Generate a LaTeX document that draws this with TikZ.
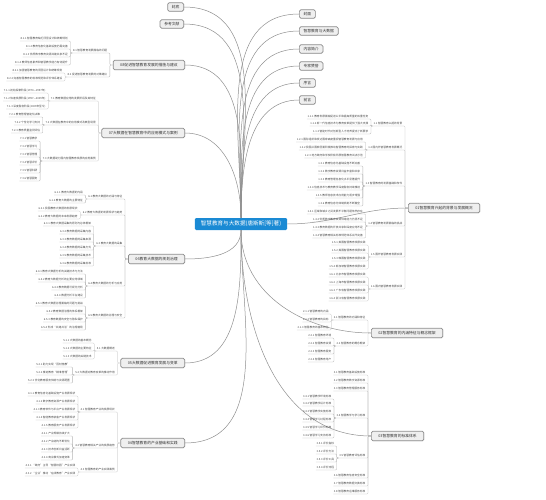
\documentclass[tikz,border=0pt]{standalone}
\usepackage{fontspec}
\setmainfont{Noto Sans CJK SC}
\usetikzlibrary{shadows}

\definecolor{hubBlue}{HTML}{1A8AD4}
\definecolor{boxFill}{HTML}{EFEFEF}
\definecolor{boxLine}{HTML}{8C8C8C}
\definecolor{mainLine}{HTML}{8F8F8F}
\definecolor{subLine}{HTML}{B5B5B5}
\definecolor{subText}{HTML}{454545}

\begin{document}
\begin{tikzpicture}[x=1pt, y=1pt,
    hub/.style={fill=hubBlue, text=white, rounded corners=1.2pt,
        font=\fontsize{5.6}{6.5}\selectfont, inner xsep=6pt, inner ysep=2pt, minimum height=12pt},
    tag/.style={draw=boxLine, fill=boxFill, line width=0.7pt, rounded corners=1.5pt,
        font=\fontsize{3.8}{4.5}\selectfont, text=black!80, inner xsep=4.2pt, inner ysep=1.5pt,
        minimum height=8.5pt, drop shadow={shadow xshift=0.5pt, shadow yshift=-0.5pt, opacity=0.2}},
    topic/.style={tag, inner xsep=7pt, minimum height=9.5pt},
    sub/.style={font=\fontsize{2.7}{3.2}\selectfont, text=subText, inner sep=0.5pt,
        text height=2.1pt, text depth=0.5pt, anchor=east},
    wire/.style={draw=mainLine, line width=0.5pt},
    twig/.style={draw=subLine, line width=0.3pt, rounded corners=1pt},
]
\useasboundingbox (0,0) rectangle (546,-500);

% Central topic
\node[hub] (hub) at (241,-224) {智慧教育与大数据(唐斯斯[等]著)};

% Front and back matter
\node[tag, anchor=east] (backc) at (184,-7) {封底};
\node[tag, anchor=east] (refs) at (184,-24) {参考文献};
\node[tag, anchor=west] (cover) at (299,-14) {封面};
\node[tag, anchor=west] (title) at (299,-31) {智慧教育与大数据};
\node[tag, anchor=west] (intro) at (299,-49) {内容简介};
\node[tag, anchor=west] (praise) at (299,-66) {专家赞誉};
\node[tag, anchor=west] (pref) at (299,-83) {序言};
\node[tag, anchor=west] (fwd) at (299,-100) {前言};

% Chapters
\node[topic, anchor=west] (ch1) at (408,-208) {01智慧教育兴起的背景与发展概况};
\node[topic, anchor=west] (ch2) at (371,-333) {02智慧教育的内涵特征与概念框架};
\node[topic, anchor=west] (ch3) at (371,-436) {03智慧教育的标准体系};
\node[topic, anchor=east] (ch4) at (185,-443) {04智慧教育的产业基础和实践};
\node[topic, anchor=east] (ch5) at (185,-363) {05大数据促进教育发展与变革};
\node[topic, anchor=east] (ch6) at (185,-259) {06教育大数据的规划治理};
\node[topic, anchor=east] (ch7) at (185,-133) {07大数据在智慧教育中的应用模式与案例};
\node[topic, anchor=east] (ch8) at (185,-65) {08促进智慧教育发展的措施与建议};

% Curves from the central topic
\foreach \m in {backc,refs,ch8,ch7}
    \draw[wire] (hub.north) to[out=90,in=0] (\m.east);
\foreach \m in {cover,title,intro,praise,pref,fwd}
    \draw[wire] (hub.north) to[out=90,in=180] (\m.west);
\draw[wire] (hub.east) to[out=0,in=180] (ch1.west);
\foreach \m in {ch6,ch5,ch4}
    \draw[wire] (hub.south) to[out=-90,in=0] (\m.east);
\foreach \m in {ch2,ch3}
    \draw[wire] (hub.south) to[out=-90,in=180] (\m.west);

% ---- 01 ----
\foreach \y/\lbl [count=\i] in {124/{1.1 智慧教育兴起的背景}, 148/{1.2 国内外智慧教育发展概况},
    184/{1.3 智慧教育的发展基础和条件}, 224/{1.4 智慧教育发展面临的挑战},
    255/{1.5 国外智慧教育发展实践}, 287/{1.6 国内智慧教育发展实践}} {
    \node[sub, xshift=-5pt] (n1\i) at (ch1.west |- 0,-\y) {\lbl};
    \draw[twig] (ch1.west) -- ++(-3,0) |- (n1\i.south east) -- (n1\i.south west);
}
\foreach \y/\lbl [count=\i] in {117/{1.1.1 教育发展面临促进公平和提高质量的双重任务},
    124/{1.1.2 新一代信息技术为教育变革提供了强大支撑}, 132/{1.1.3 智能时代对创新型人才培养提出了新要求}} {
    \node[sub, xshift=-4pt] (n11\i) at (n11.west |- 0,-\y) {\lbl};
    \draw[twig] (n11.south west) -- ++(-2,0) |- (n11\i.south east) -- (n11\i.south west);
}
\foreach \y/\lbl [count=\i] in {140/{1.2.1 国际组织和发达国家高度重视智慧教育发展与应用},
    148/{1.2.2 我国从国家层面积极推动智慧教育的探索与实践}, 156/{1.2.3 地方政府和学校积极开展智慧教育试点示范}} {
    \node[sub, xshift=-4pt] (n12\i) at (n12.west |- 0,-\y) {\lbl};
    \draw[twig] (n12.south west) -- ++(-2,0) |- (n12\i.south east) -- (n12\i.south west);
}
\foreach \y/\lbl [count=\i] in {164/{1.3.1 教育信息化基础设施不断完善}, 172/{1.3.2 数字教育资源日益丰富和共享},
    180/{1.3.3 教育管理信息化水平显著提升}, 188/{1.3.4 信息技术与教育教学深度融合持续推进},
    196/{1.3.5 教师信息技术应用能力逐步增强}, 204/{1.3.6 教育信息化体制机制不断健全}} {
    \node[sub, xshift=-4pt] (n13\i) at (n13.west |- 0,-\y) {\lbl};
    \draw[twig] (n13.south west) -- ++(-2,0) |- (n13\i.south east) -- (n13\i.south west);
}
\foreach \y/\lbl [count=\i] in {212/{1.4.1 区域和城乡之间发展不平衡问题依然存在}, 220/{1.4.2 优质数字教育资源供给能力仍显不足},
    228/{1.4.3 教育数据的开放共享和深度应用不足}, 236/{1.4.4 智慧教育相关标准规范体系尚不完善}} {
    \node[sub, xshift=-4pt] (n14\i) at (n14.west |- 0,-\y) {\lbl};
    \draw[twig] (n14.south west) -- ++(-2,0) |- (n14\i.south east) -- (n14\i.south west);
}
\foreach \y/\lbl [count=\i] in {243/{1.5.1 美国智慧教育发展实践}, 251/{1.5.2 英国智慧教育发展实践},
    259/{1.5.3 韩国智慧教育发展实践}, 267/{1.5.4 新加坡智慧教育发展实践}} {
    \node[sub, xshift=-4pt] (n15\i) at (n15.west |- 0,-\y) {\lbl};
    \draw[twig] (n15.south west) -- ++(-2,0) |- (n15\i.south east) -- (n15\i.south west);
}
\foreach \y/\lbl [count=\i] in {275/{1.6.1 北京市智慧教育发展实践}, 283/{1.6.2 上海市智慧教育发展实践},
    291/{1.6.3 广东省智慧教育发展实践}, 299/{1.6.4 浙江省智慧教育发展实践}} {
    \node[sub, xshift=-4pt] (n16\i) at (n16.west |- 0,-\y) {\lbl};
    \draw[twig] (n16.south west) -- ++(-2,0) |- (n16\i.south east) -- (n16\i.south west);
}

% ---- 02 ----
\foreach \y/\lbl [count=\i] in {318/{2.1 智慧教育的内涵和特征}, 344/{2.2 智慧教育的概念框架}} {
    \node[sub, xshift=-5pt] (n2\i) at (ch2.west |- 0,-\y) {\lbl};
    \draw[twig] (ch2.west) -- ++(-3,0) |- (n2\i.south east) -- (n2\i.south west);
}
\foreach \y/\lbl [count=\i] in {312/{2.1.1 智慧教育的内涵}, 320/{2.1.2 智慧教育的目标}, 328/{2.1.3 智慧教育的基本特征}} {
    \node[sub, xshift=-4pt] (n21\i) at (n21.west |- 0,-\y) {\lbl};
    \draw[twig] (n21.south west) -- ++(-2,0) |- (n21\i.south east) -- (n21\i.south west);
}
\foreach \y/\lbl [count=\i] in {336/{2.2.1 智慧教育环境}, 344/{2.2.2 智慧教育资源},
    352/{2.2.3 智慧教育服务}, 360/{2.2.4 智慧教育用户}} {
    \node[sub, xshift=-4pt] (n22\i) at (n22.west |- 0,-\y) {\lbl};
    \draw[twig] (n22.south west) -- ++(-2,0) |- (n22\i.south east) -- (n22\i.south west);
}

% ---- 03 ----
\foreach \y/\lbl [count=\i] in {373/{3.1 智慧教育基础设施标准}, 381/{3.2 智慧教育数字资源标准},
    389/{3.3 智慧教育管理服务标准}, 416/{3.4 智慧教学与学习标准}, 456/{3.5 智慧教育评估标准},
    476/{3.6 智慧教育信息安全标准}, 484/{3.7 智慧教育数据交换标准}, 492/{3.8 智慧教育运维服务标准}} {
    \node[sub, xshift=-5pt] (n3\i) at (ch3.west |- 0,-\y) {\lbl};
    \draw[twig] (ch3.west) -- ++(-3,0) |- (n3\i.south east) -- (n3\i.south west);
}
\foreach \y/\lbl [count=\i] in {397/{3.4.1 智慧教学环境标准}, 404/{3.4.2 智慧教学设计标准},
    412/{3.4.3 智慧教学实施标准}, 420/{3.4.4 智慧学习过程标准}, 428/{3.4.5 智慧学习评价标准},
    436/{3.4.6 智慧学习支持标准}} {
    \node[sub, xshift=-4pt] (n34\i) at (n34.west |- 0,-\y) {\lbl};
    \draw[twig] (n34.south west) -- ++(-2,0) |- (n34\i.south east) -- (n34\i.south west);
}
\foreach \y/\lbl [count=\i] in {444/{3.5.1 评价指标}, 452/{3.5.2 评价方法}, 460/{3.5.3 评价工具}, 468/{3.5.4 评价流程}} {
    \node[sub, xshift=-4pt] (n35\i) at (n35.west |- 0,-\y) {\lbl};
    \draw[twig] (n35.south west) -- ++(-2,0) |- (n35\i.south east) -- (n35\i.south west);
}

% ---- 04 ----
\foreach \y/\lbl [count=\i] in {410/{4.1 智慧教育产业的发展现状}, 446/{4.2 智慧教育相关产业的发展趋势},
    470/{4.3 智慧教育的产业实践案例}} {
    \node[sub, xshift=-5pt] (n4\i) at (ch4.west |- 0,-\y) {\lbl};
    \draw[twig] (ch4.west) -- ++(-3,0) |- (n4\i.south east) -- (n4\i.south west);
}
\foreach \y/\lbl [count=\i] in {394/{4.1.1 教育信息化基础设施产业发展现状}, 402/{4.1.2 数字教育资源产业发展现状},
    410/{4.1.3 教育软件与平台产业发展现状}, 418/{4.1.4 智能教育装备产业发展现状},
    426/{4.1.5 教育服务产业发展现状}} {
    \node[sub, xshift=-4pt] (n41\i) at (n41.west |- 0,-\y) {\lbl};
    \draw[twig] (n41.south west) -- ++(-2,0) |- (n41\i.south east) -- (n41\i.south west);
}
\foreach \y/\lbl [count=\i] in {434/{4.2.1 产业规模持续扩大}, 442/{4.2.2 产业结构不断优化},
    450/{4.2.3 技术创新日益活跃}, 458/{4.2.4 商业模式加速变革}} {
    \node[sub, xshift=-4pt] (n42\i) at (n42.west |- 0,-\y) {\lbl};
    \draw[twig] (n42.south west) -- ++(-2,0) |- (n42\i.south east) -- (n42\i.south west);
}
\foreach \y/\lbl [count=\i] in {466/{4.3.1 “政府”主导“智慧校园”产业实践}, 474/{4.3.2 “企业”推动“在线教育”产业实践}} {
    \node[sub, xshift=-4pt] (n43\i) at (n43.west |- 0,-\y) {\lbl};
    \draw[twig] (n43.south west) -- ++(-2,0) |- (n43\i.south east) -- (n43\i.south west);
}

% ---- 05 ----
\foreach \y/\lbl [count=\i] in {349/{5.1 大数据概述}, 373/{5.2 大数据对教育变革的推动作用}} {
    \node[sub, xshift=-5pt] (n5\i) at (ch5.west |- 0,-\y) {\lbl};
    \draw[twig] (ch5.west) -- ++(-3,0) |- (n5\i.south east) -- (n5\i.south west);
}
\foreach \y/\lbl [count=\i] in {341/{5.1.1 大数据的基本概念}, 349/{5.1.2 大数据的主要特征}, 357/{5.1.3 大数据的关键技术}} {
    \node[sub, xshift=-4pt] (n51\i) at (n51.west |- 0,-\y) {\lbl};
    \draw[twig] (n51.south west) -- ++(-2,0) |- (n51\i.south east) -- (n51\i.south west);
}
\foreach \y/\lbl [count=\i] in {365/{5.2.1 助力实现“因材施教”}, 373/{5.2.2 推进教育“精准管理”},
    381/{5.2.3 优化教育服务供给与资源配置}} {
    \node[sub, xshift=-4pt] (n52\i) at (n52.west |- 0,-\y) {\lbl};
    \draw[twig] (n52.south west) -- ++(-2,0) |- (n52\i.south east) -- (n52\i.south west);
}

% ---- 06 ----
\foreach \y/\lbl [count=\i] in {197/{6.1 教育大数据的内涵与特征}, 213/{6.2 教育大数据的发展现状与趋势},
    244/{6.3 教育大数据的采集}, 284/{6.4 教育大数据的分析与应用}, 316/{6.5 教育大数据的治理与安全}} {
    \node[sub, xshift=-5pt] (n6\i) at (ch6.west |- 0,-\y) {\lbl};
    \draw[twig] (ch6.west) -- ++(-3,0) |- (n6\i.south east) -- (n6\i.south west);
}
\foreach \y/\lbl [count=\i] in {193/{6.1.1 教育大数据的内涵}, 201/{6.1.2 教育大数据的主要特征}} {
    \node[sub, xshift=-4pt] (n61\i) at (n61.west |- 0,-\y) {\lbl};
    \draw[twig] (n61.south west) -- ++(-2,0) |- (n61\i.south east) -- (n61\i.south west);
}
\foreach \y/\lbl [count=\i] in {209/{6.2.1 我国教育大数据的发展现状}, 217/{6.2.2 教育大数据的未来发展趋势}} {
    \node[sub, xshift=-4pt] (n62\i) at (n62.west |- 0,-\y) {\lbl};
    \draw[twig] (n62.south west) -- ++(-2,0) |- (n62\i.south east) -- (n62\i.south west);
}
\foreach \y/\lbl [count=\i] in {224/{6.3.1 教育大数据采集的原则与总体框架}, 232/{6.3.2 教育数据的采集内容},
    240/{6.3.3 教育数据的采集来源}, 248/{6.3.4 教育数据的采集方式}, 256/{6.3.5 教育数据的采集技术},
    264/{6.3.6 教育数据的采集标准}} {
    \node[sub, xshift=-4pt] (n63\i) at (n63.west |- 0,-\y) {\lbl};
    \draw[twig] (n63.south west) -- ++(-2,0) |- (n63\i.south east) -- (n63\i.south west);
}
\foreach \y/\lbl [count=\i] in {272/{6.4.1 教育大数据分析的关键技术与方法}, 280/{6.4.2 教育大数据分析的主要应用领域},
    288/{6.4.3 教育数据可视化分析}, 296/{6.4.4 数据分析平台建设}} {
    \node[sub, xshift=-4pt] (n64\i) at (n64.west |- 0,-\y) {\lbl};
    \draw[twig] (n64.south west) -- ++(-2,0) |- (n64\i.south east) -- (n64\i.south west);
}
\foreach \y/\lbl [count=\i] in {304/{6.5.1 教育大数据治理面临的问题与挑战}, 312/{6.5.2 教育数据治理的体系框架},
    320/{6.5.3 教育数据的安全与隐私保护}, 328/{6.5.4 形成“共建共治”的治理格局}} {
    \node[sub, xshift=-4pt] (n65\i) at (n65.west |- 0,-\y) {\lbl};
    \draw[twig] (n65.south west) -- ++(-2,0) |- (n65\i.south east) -- (n65\i.south west);
}

% ---- 07 ----
\foreach \y/\lbl [count=\i] in {99/{7.1 教育数据应用的发展阶段及其特征}, 123/{7.2 大数据在教育中的应用模式及典型场景},
    159/{7.3 大数据助力国内智慧教育发展的应用案例}} {
    \node[sub, xshift=-5pt] (n7\i) at (ch7.west |- 0,-\y) {\lbl};
    \draw[twig] (ch7.west) -- ++(-3,0) |- (n7\i.south east) -- (n7\i.south west);
}
\foreach \y/\lbl [count=\i] in {91/{7.1.1 初始探索阶段(1970—1997年)}, 99/{7.1.2 快速发展阶段(1997—2009年)},
    107/{7.1.3 深度融合阶段(2009年至今)}} {
    \node[sub, xshift=-4pt] (n71\i) at (n71.west |- 0,-\y) {\lbl};
    \draw[twig] (n71.south west) -- ++(-2,0) |- (n71\i.south east) -- (n71\i.south west);
}
\foreach \y/\lbl [count=\i] in {115/{7.2.1 教育管理智能化决策}, 123/{7.2.2 个性化学习支持}, 131/{7.2.3 教育质量监测评估}} {
    \node[sub, xshift=-4pt] (n72\i) at (n72.west |- 0,-\y) {\lbl};
    \draw[twig] (n72.south west) -- ++(-2,0) |- (n72\i.south east) -- (n72\i.south west);
}
\foreach \y/\lbl [count=\i] in {139/{7.3.1 智慧教学}, 147/{7.3.2 智慧学习}, 155/{7.3.3 智慧管理},
    163/{7.3.4 智慧评价}, 171/{7.3.5 智慧科研}, 179/{7.3.6 智慧服务}} {
    \node[sub, xshift=-4pt] (n73\i) at (n73.west |- 0,-\y) {\lbl};
    \draw[twig] (n73.south west) -- ++(-2,0) |- (n73\i.south east) -- (n73\i.south west);
}

% ---- 08 ----
\foreach \y/\lbl [count=\i] in {51/{8.1 智慧教育发展面临的问题}, 75/{8.2 促进智慧教育发展的对策建议}} {
    \node[sub, xshift=-5pt] (n8\i) at (ch8.west |- 0,-\y) {\lbl};
    \draw[twig] (ch8.west) -- ++(-3,0) |- (n8\i.south east) -- (n8\i.south west);
}
\foreach \y/\lbl [count=\i] in {39/{8.1.1 智慧教育缺乏顶层设计和统筹规划}, 47/{8.1.2 教育信息化基础设施仍需完善},
    55/{8.1.3 优质数字教育资源共建共享不足}, 63/{8.1.4 教师信息素养和智慧教学能力有待提升}} {
    \node[sub, xshift=-4pt] (n81\i) at (n81.west |- 0,-\y) {\lbl};
    \draw[twig] (n81.south west) -- ++(-2,0) |- (n81\i.south east) -- (n81\i.south west);
}
\foreach \y/\lbl [count=\i] in {71/{8.2.1 加强智慧教育的顶层设计和统筹规划}, 79/{8.2.2 完善智慧教育的标准规范和评价体系建设}} {
    \node[sub, xshift=-4pt] (n82\i) at (n82.west |- 0,-\y) {\lbl};
    \draw[twig] (n82.south west) -- ++(-2,0) |- (n82\i.south east) -- (n82\i.south west);
}

\end{tikzpicture}
\end{document}
